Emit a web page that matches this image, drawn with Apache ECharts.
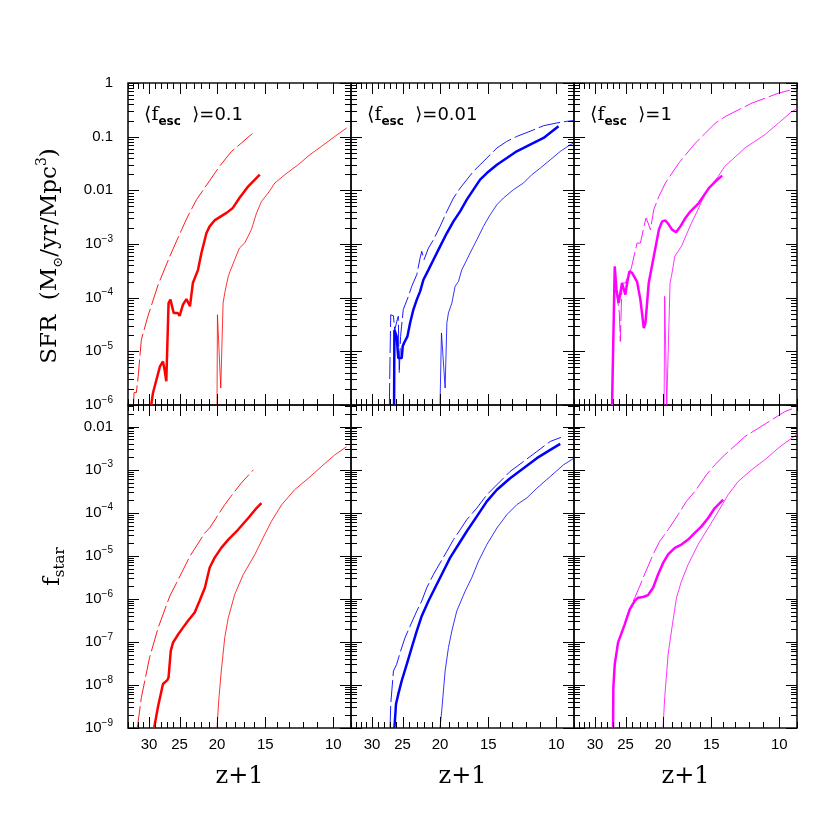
<!DOCTYPE html>
<html><head><meta charset="utf-8">
<script src="https://cdn.jsdelivr.net/npm/echarts@6/dist/echarts.min.js"></script>
<style>html,body{margin:0;padding:0;background:#fff}#c{width:830px;height:830px}</style>
</head><body><div id="c"></div>
<script>
// ---------- axis ticks / labels ----------
const xMajorTicks = [10, 15, 20, 25, 30];
const xMinorTicks = [9,11,12,13,14,16,17,18,19,21,22,23,24,26,27,28,29,31,32,33,34];
const sfrMajorTicks = [1e-6, 1e-5, 1e-4, 1e-3, 1e-2, 1e-1, 1];
const fstarMajorTicks = [1e-9, 1e-8, 1e-7, 1e-6, 1e-5, 1e-4, 1e-3, 1e-2];
const escLabels = ['0.1', '0.01', '1'];
const lineColors = ['#ff0000', '#0000ff', '#ff00ff'];

// ---------- SFR (top row) ----------
const sfrEsc01Dashed = [[32.9,1e-6],[32.8,1.7e-6],[32.35,1.7e-6],[32.0,3.4e-6],[31.4,1.65e-5],[30.2,4.5e-5],[28.4,1.75e-4],[26.5,5.9e-4],[24.7,1.85e-3],[23.8,3.3e-3],[22.6,6.7e-3],[21.1,0.0137],[19.7,0.028],[18.35,0.053],[17.3,0.076],[16.2,0.114]];
const sfrEsc01Thick = [[29.6,1e-6],[29.3,1.67e-6],[28.7,2.96e-6],[28.1,5.25e-6],[27.6,6.5e-6],[27.3,4.25e-6],[27.06,2.76e-6],[26.7,7.9e-5],[26.4,9.2e-5],[25.9,5.2e-5],[25.3,5.2e-5],[25.0,4.6e-5],[24.5,7.4e-5],[24.0,9.4e-5],[23.5,6.9e-5],[23.1,1.87e-4],[22.4,3.3e-4],[21.95,6.8e-4],[21.3,1.6e-3],[20.9,2.13e-3],[20.3,2.75e-3],[19.5,3.3e-3],[18.9,3.8e-3],[18.2,4.7e-3],[17.5,7.2e-3],[16.6,0.0119],[15.96,0.0158],[15.5,0.0196]];
const sfrEsc01Thin = [[20.0,1e-6],[19.95,4.8e-5],[19.56,2.07e-6],[19.29,7.9e-5],[19.1,1.23e-4],[18.7,2.5e-4],[18.5,3.1e-4],[18.0,5.1e-4],[17.5,8.4e-4],[16.95,1.05e-3],[16.3,1.85e-3],[15.8,3.8e-3],[15.35,6.2e-3],[14.75,8.9e-3],[14.17,0.0137],[13.35,0.0196],[12.33,0.030],[11.5,0.046],[10.73,0.066],[9.91,0.101],[9.24,0.145]];

const sfrEsc001Dashed = [[27.05,1e-6],[26.94,8.1e-6],[26.83,4.8e-5],[26.4,4.6e-5],[26.2,2.5e-5],[25.8,3.9e-5],[25.65,4.5e-5],[25.5,3.9e-6],[25.3,1.9e-5],[24.9,6.0e-5],[24.15,1.06e-4],[23.67,1.63e-4],[22.97,2.7e-4],[22.52,5.5e-4],[22.3,7.3e-4],[22.0,5.1e-4],[21.43,8.4e-4],[20.8,1.2e-3],[19.99,2.13e-3],[19.2,4.06e-3],[18.46,7.2e-3],[17.74,0.011],[17.05,0.0158],[16.39,0.0226],[15.75,0.030],[15.13,0.040],[14.25,0.0615],[13.43,0.0818],[12.66,0.101],[11.69,0.126],[10.79,0.160],[9.97,0.18],[9.4,0.193],[9.0,0.2]];
const sfrEsc001Thick = [[26.3,1e-6],[26.25,2.5e-5],[25.9,1.9e-5],[25.65,7.5e-6],[25.13,7.5e-6],[24.98,1.24e-5],[24.78,1.43e-5],[24.58,1.33e-5],[24.29,1.9e-5],[23.9,3.4e-5],[23.44,6.0e-5],[22.97,9.2e-5],[22.52,1.31e-4],[22.08,2.16e-4],[21.43,3.3e-4],[20.8,5.1e-4],[19.99,9.05e-4],[19.2,1.6e-3],[18.46,2.64e-3],[17.74,4.06e-3],[17.05,6.7e-3],[16.39,0.0103],[15.75,0.0158],[15.13,0.021],[14.25,0.030],[13.43,0.040],[12.66,0.0533],[11.69,0.071],[10.79,0.0945],[9.87,0.156]];
const sfrEsc001Thin = [[20.0,1e-6],[19.83,2.2e-5],[19.4,2.07e-6],[19.2,3.4e-5],[19.02,5.2e-5],[18.64,7.9e-5],[18.28,1.63e-4],[17.92,2.0e-4],[17.57,3.3e-4],[17.22,4.4e-4],[16.72,6.8e-4],[16.06,1.2e-3],[15.44,2.13e-3],[14.84,3.5e-3],[14.25,5.4e-3],[13.7,7.2e-3],[12.91,0.0103],[12.16,0.0137],[11.57,0.0196],[11.0,0.026],[10.37,0.037],[9.77,0.053],[9.2,0.071],[9.0,0.076]];

const sfrEsc1Dashed = [[27.1,1e-6],[26.83,4.5e-5],[26.67,3.8e-4],[26.3,1.06e-4],[25.95,5.2e-5],[25.8,1.53e-5],[25.54,1.87e-4],[25.03,1.87e-4],[24.15,3.6e-4],[23.35,1.04e-3],[22.89,1.04e-3],[22.3,2.46e-3],[22.12,3.05e-3],[21.86,2.46e-3],[21.56,1.85e-3],[21.13,4.4e-3],[20.5,7.7e-3],[19.72,0.0137],[18.95,0.021],[18.21,0.032],[17.33,0.0496],[16.49,0.076],[15.53,0.117],[14.63,0.18],[13.78,0.239],[12.73,0.318],[11.76,0.424],[10.85,0.525],[10.03,0.651],[9.27,0.751],[9.0,0.79]];
const sfrEsc1Thick = [[27.1,1e-6],[26.67,3.8e-4],[26.4,1.41e-4],[26.05,7.9e-5],[25.8,7.4e-5],[25.54,1.87e-4],[25.3,1.75e-4],[25.03,1.14e-4],[24.78,1.87e-4],[24.43,3.1e-4],[24.05,2.9e-4],[23.35,2.0e-4],[22.89,9.2e-5],[22.43,2.7e-5],[22.21,3.4e-5],[21.78,1.87e-4],[21.13,5.9e-4],[20.5,1.85e-3],[20.11,2.64e-3],[19.72,2.75e-3],[19.33,2.3e-3],[18.95,1.85e-3],[18.5,1.65e-3],[18.03,2.13e-3],[17.5,3.05e-3],[16.98,4.06e-3],[16.16,5.8e-3],[15.22,0.011],[14.63,0.0147],[14.06,0.0188]];
const sfrEsc1Thin = [[19.87,1e-6],[19.8,1.06e-4],[19.56,1e-6],[19.33,1e-6],[19.18,1.87e-4],[19.02,2.5e-4],[18.64,5.9e-4],[18.28,7.3e-4],[17.92,9.05e-4],[17.4,1.49e-3],[16.88,2.46e-3],[16.23,4.4e-3],[15.75,7.2e-3],[15.28,0.011],[14.84,0.0137],[14.39,0.0182],[13.84,0.028],[12.96,0.043],[12.28,0.0615],[11.57,0.0818],[10.9,0.109],[10.07,0.177],[9.3,0.29],[9.0,0.33]];

// ---------- f_star (bottom row) ----------
const fstarEsc01Dashed = [[32.16,1e-9],[31.4,5.1e-9],[29.9,4.3e-8],[28.4,2.14e-7],[26.5,1.16e-6],[25.2,2.8e-6],[23.5,9.8e-6],[21.5,3.4e-5],[20.9,4.4e-5],[19.1,1.53e-4],[18.4,2.4e-4],[17.3,4.9e-4],[16.1,9.9e-4]];
const fstarEsc01Thick = [[29.1,1e-9],[28.4,3.3e-9],[27.6,1.05e-8],[26.9,1.29e-8],[26.7,1.49e-8],[26.35,6.2e-8],[26.0,9.6e-8],[25.2,1.5e-7],[24.5,2.14e-7],[23.8,3.05e-7],[22.85,4.8e-7],[22.2,8.9e-7],[21.5,1.8e-6],[20.9,5.25e-6],[20.3,8.9e-6],[19.5,1.52e-5],[18.7,2.37e-5],[17.65,4.0e-5],[16.6,7.5e-5],[15.8,1.28e-4],[15.35,1.67e-4]];
const fstarEsc01Thin = [[20.0,1e-9],[19.8,4.3e-9],[19.5,2.1e-8],[19.1,1.26e-7],[18.7,3.65e-7],[18.0,1.26e-6],[17.1,3.67e-6],[15.96,1.07e-5],[15.2,2.6e-5],[14.46,6.3e-5],[13.6,1.53e-4],[12.6,3.4e-4],[11.6,6.3e-4],[10.73,1.18e-3],[9.91,2.2e-3],[9.24,3.4e-3]];

const fstarEsc001Dashed = [[26.94,1e-9],[26.83,3.6e-9],[26.4,2.1e-8],[25.9,3.0e-8],[25.38,5.6e-8],[24.63,1.26e-7],[23.9,2.34e-7],[22.97,5.2e-7],[22.3,8.9e-7],[21.65,1.8e-6],[20.8,3.67e-6],[19.99,6.8e-6],[19.2,1.27e-5],[18.46,2.37e-5],[17.74,4.0e-5],[17.05,6.9e-5],[16.06,1.28e-4],[15.13,2.6e-4],[14.25,4.45e-4],[13.17,9.05e-4],[12.16,1.54e-3],[11.23,2.63e-3],[10.37,4.5e-3],[9.73,5.6e-3]];
const fstarEsc001Thick = [[26.25,1e-9],[26.0,3.6e-9],[25.65,6.1e-9],[25.13,1.25e-8],[24.39,3.0e-8],[23.67,7.4e-8],[22.97,1.79e-7],[22.3,4.0e-7],[21.43,8.9e-7],[20.6,1.8e-6],[19.8,3.67e-6],[18.84,8.9e-6],[17.92,1.82e-5],[17.05,3.7e-5],[16.06,8.2e-5],[15.13,1.83e-4],[14.25,3.4e-4],[13.17,6.3e-4],[12.16,1.08e-3],[11.23,1.84e-3],[10.37,2.87e-3],[9.77,3.95e-3]];
const fstarEsc001Thin = [[20.0,1e-9],[19.8,2.5e-9],[19.4,2.1e-8],[19.02,7.4e-8],[18.64,1.79e-7],[18.1,5.2e-7],[17.22,1.5e-6],[16.55,3.1e-6],[15.9,7.5e-6],[15.13,1.82e-5],[14.25,4.4e-5],[13.43,9.0e-5],[12.66,1.53e-4],[11.92,2.2e-4],[11.23,3.7e-4],[10.37,6.9e-4],[9.58,1.29e-3],[9.0,1.84e-3]];

const fstarEsc1Dashed = [[26.94,1e-9],[26.89,8.7e-9],[26.67,3.0e-8],[26.15,9.6e-8],[25.13,2.55e-7],[24.39,5.7e-7],[23.67,1.06e-6],[22.97,1.97e-6],[22.52,3.1e-6],[21.86,5.7e-6],[21.22,1.07e-5],[20.4,2.17e-5],[19.4,4.0e-5],[18.28,9.0e-5],[17.4,1.83e-4],[16.55,3.1e-4],[15.44,7.6e-4],[14.69,1.29e-3],[13.84,2.2e-3],[12.96,3.75e-3],[12.28,5.85e-3],[11.34,9.1e-3],[10.47,0.0142],[9.68,0.0222],[9.1,0.0274],[9.0,0.029]];
const fstarEsc1Thick = [[26.94,1e-9],[26.89,8.7e-9],[26.67,3.0e-8],[26.15,9.6e-8],[25.13,2.55e-7],[24.39,5.7e-7],[23.67,8.9e-7],[23.2,1.06e-6],[22.52,1.1e-6],[21.86,1.22e-6],[21.22,1.8e-6],[20.6,3.67e-6],[19.99,6.8e-6],[19.4,1.07e-5],[18.64,1.52e-5],[17.92,1.82e-5],[17.22,2.37e-5],[16.55,3.4e-5],[15.9,4.8e-5],[15.28,7.5e-5],[14.69,1.28e-4],[13.97,2.0e-4]];
const fstarEsc1Thin = [[20.0,1e-9],[19.8,5.1e-9],[19.4,5.2e-8],[19.02,1.79e-7],[18.46,1.06e-6],[17.92,2.57e-6],[17.22,6.25e-6],[16.23,1.82e-5],[15.28,4.4e-5],[14.39,1.07e-4],[13.57,2.6e-4],[12.78,5.3e-4],[11.8,9.9e-4],[10.9,1.69e-3],[10.07,3.14e-3],[9.3,5.35e-3],[9.0,6.5e-3]];

// ---------- layout ----------
const panels = [
  {row:0, col:0, data:[sfrEsc01Dashed, sfrEsc01Thick, sfrEsc01Thin]},
  {row:0, col:1, data:[sfrEsc001Dashed, sfrEsc001Thick, sfrEsc001Thin]},
  {row:0, col:2, data:[sfrEsc1Dashed, sfrEsc1Thick, sfrEsc1Thin]},
  {row:1, col:0, data:[fstarEsc01Dashed, fstarEsc01Thick, fstarEsc01Thin]},
  {row:1, col:1, data:[fstarEsc001Dashed, fstarEsc001Thick, fstarEsc001Thin]},
  {row:1, col:2, data:[fstarEsc1Dashed, fstarEsc1Thick, fstarEsc1Thin]}
];
const G_LEFT = 128, G_W = 223, G_TOP = 83, G_H = 322;
const SANS = 'Liberation Sans', SERIF = 'DejaVu Serif';
const yRanges = [[1e-6, 1], [1e-9, 0.0316]];
const yMajors = [sfrMajorTicks, fstarMajorTicks];
const MAJOR_LEN = 11, MINOR_LEN = 6;

function minorOf(majors) {
  const out = [];
  majors.forEach(m => { for (let k = 2; k <= 9; k++) out.push(+(k * m).toPrecision(6)); });
  return out;
}

function yLabelFmt(v) {
  const e = Math.round(Math.log10(v));
  if (e >= -2) return '{b|' + (e === 0 ? '1' : e === -1 ? '0.1' : '0.01') + '}';
  return '{b|10}{s|\u2212' + (-e) + '}';
}

// tick items for the custom tick series: [x, y, kind(0=x,1=y), length]
function tickItems(row) {
  const rng = yRanges[row];
  const items = [];
  xMajorTicks.forEach(v => items.push([v, rng[0], 0, MAJOR_LEN]));
  xMinorTicks.forEach(v => items.push([v, rng[0], 0, MINOR_LEN]));
  yMajors[row].forEach(v => { if (v >= rng[0] && v <= rng[1]) items.push([20, v, 1, MAJOR_LEN]); });
  minorOf(yMajors[row]).forEach(v => { if (v > rng[0] && v < rng[1]) items.push([20, v, 1, MINOR_LEN]); });
  return items;
}

function renderTick(params, api) {
  const cs = params.coordSys;
  const kind = api.value(2), len = api.value(3);
  const pt = api.coord([api.value(0), api.value(1)]);
  const st = {stroke:'#000', lineWidth:1};
  if (kind === 0) {
    const px = Math.round(pt[0]) + 0.5;
    const yb = cs.y + cs.height, yt = cs.y;
    return {type:'group', children:[
      {type:'line', shape:{x1:px, y1:yb, x2:px, y2:yb - len}, style:st},
      {type:'line', shape:{x1:px, y1:yt, x2:px, y2:yt + len}, style:st}
    ]};
  }
  const py = Math.round(pt[1]) + 0.5;
  const xl = cs.x, xr = cs.x + cs.width;
  return {type:'group', children:[
    {type:'line', shape:{x1:xl, y1:py, x2:xl + len, y2:py}, style:st},
    {type:'line', shape:{x1:xr, y1:py, x2:xr - len, y2:py}, style:st}
  ]};
}

const grids = [], xAxes = [], yAxes = [], series = [];

panels.forEach((p, i) => {
  grids.push({left: G_LEFT + p.col * G_W, top: G_TOP + p.row * G_H, width: G_W, height: G_H + (p.row === 1 ? 1 : 0),
    show:true, borderColor:'#111', borderWidth:1.6, backgroundColor:'transparent', containLabel:false});
  const showX = p.row === 1;
  xAxes.push({
    type:'log', logBase:10, gridIndex:i, position:'bottom', min:9, max:34, inverse:true,
    splitLine:{show:false}, axisLine:{show:false}, axisTick:{show:false},
    axisLabel: showX ? {show:true, customValues:xMajorTicks, margin:9, color:'#000', fontSize:15, fontFamily:SANS, formatter: v => String(Math.round(v))} : {show:false},
    name: showX ? 'z+1' : '', nameLocation:'middle', nameGap:37,
    nameTextStyle:{fontFamily:SERIF, fontSize:24, color:'#000'}
  });
  const showY = p.col === 0;
  const rng = yRanges[p.row];
  yAxes.push({
    type:'log', logBase:10, gridIndex:i, position:'left', min:rng[0], max:rng[1],
    splitLine:{show:false}, axisLine:{show:false}, axisTick:{show:false},
    axisLabel: showY ? {show:true, customValues:yMajors[p.row], margin:15, color:'#000', fontFamily:SANS, fontSize:15, formatter:yLabelFmt,
      rich:{b:{fontFamily:SANS, fontSize:15, lineHeight:20, color:'#000'}, s:{fontFamily:SANS, fontSize:10, lineHeight:10, verticalAlign:'top', color:'#000'}}} : {show:false},
    name: !showY ? '' : (p.row === 0 ? '{t|SFR  (M}{o|\u2299}{t|/yr/Mpc}{u|3}{t|)}' : '{t|f}{d|star}'),
    nameLocation:'middle', nameGap: p.row === 0 ? 63 : 60, nameRotate:90,
    nameTextStyle:{fontFamily:SERIF, fontSize:23, color:'#000', padding: p.row === 0 ? [0, 24, 0, 0] : [0, 0, 0, 0], rich:{
      t:{fontFamily:SERIF, fontSize:23, lineHeight:30, color:'#000'},
      o:{fontFamily:SERIF, fontSize:13, lineHeight:12, verticalAlign:'bottom', color:'#000'},
      u:{fontFamily:SERIF, fontSize:14, lineHeight:14, verticalAlign:'top', color:'#000'},
      d:{fontFamily:SERIF, fontSize:15, lineHeight:14, verticalAlign:'bottom', color:'#000'}
    }}
  });

  const col = lineColors[p.col];
  const styles = [
    {width:0.9, type:[22, 4]},
    {width:2.5, type:'solid'},
    {width:0.8, type:'solid'}
  ];
  p.data.forEach((d, k) => {
    series.push({
      type:'line', xAxisIndex:i, yAxisIndex:i, data:d,
      showSymbol:false, symbol:'none', clip:true, animation:false, silent:true,
      lineStyle:{color:col, width:styles[k].width, type:styles[k].type}
    });
  });
  series.push({
    type:'custom', xAxisIndex:i, yAxisIndex:i, data:tickItems(p.row),
    renderItem:renderTick, silent:true, animation:false, z:5
  });
});

const titles = escLabels.map((s, c) => ({
  left: G_LEFT + c * G_W + 16, top: 102, padding:0,
  text: '{a|\u27E8f}{b|esc}{c|  \u27E9=' + s + '}',
  textStyle:{fontWeight:'normal', rich:{
    a:{fontFamily:SERIF, fontWeight:'normal', fontSize:19, lineHeight:26, color:'#000'},
    b:{fontFamily:'DejaVu Sans', fontWeight:'bold', fontSize:12, lineHeight:11, verticalAlign:'bottom', color:'#000'},
    c:{fontFamily:'DejaVu Sans', fontWeight:'normal', fontSize:18, lineHeight:26, color:'#000'}
  }}
}));

const chart = echarts.init(document.getElementById('c'), null, {renderer:'canvas'});
chart.setOption({
  animation:false, backgroundColor:'#fff',
  title: titles, grid: grids, xAxis: xAxes, yAxis: yAxes, series: series
});
</script></body></html>
